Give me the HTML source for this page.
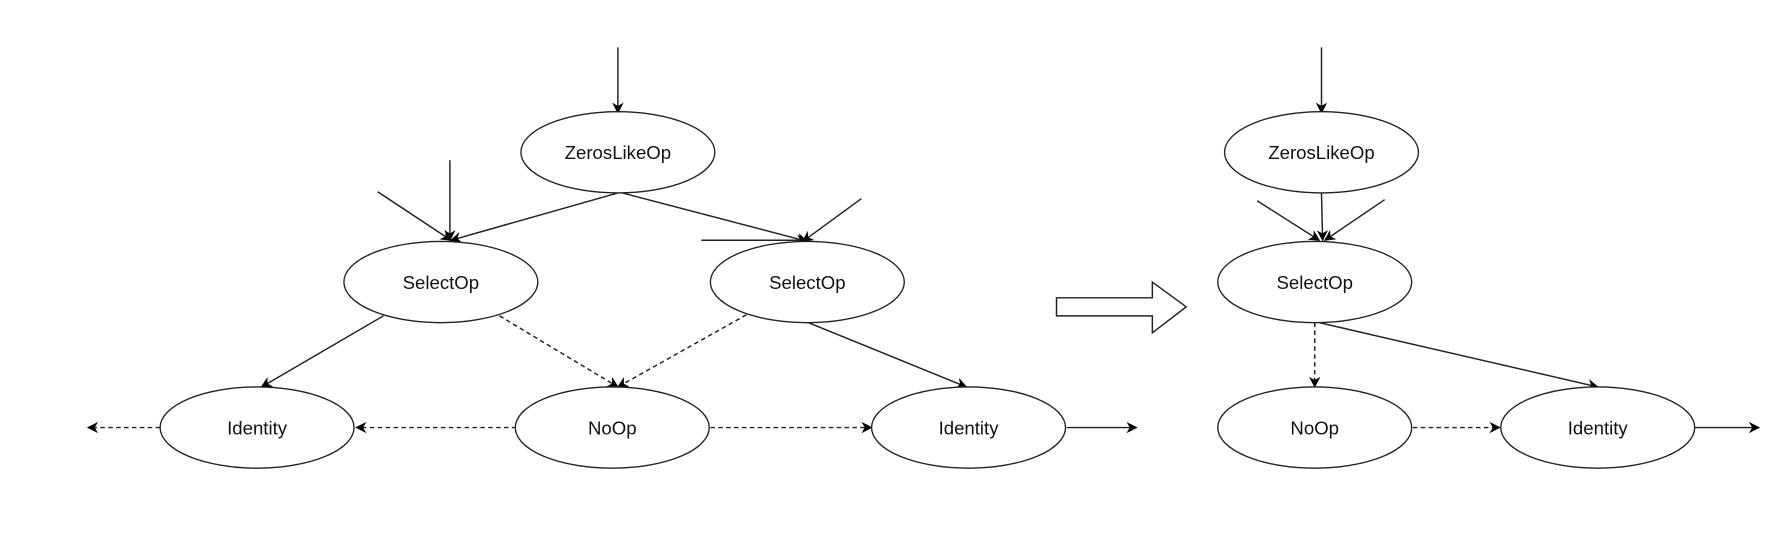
<!DOCTYPE html>
<html><head><style>html,body{margin:0;padding:0;background:#fff}svg{display:block}</style></head>
<body>
<svg width="1768" height="546" viewBox="0 0 1568 484" preserveAspectRatio="none" xmlns="http://www.w3.org/2000/svg">
<defs>
<marker id="a" markerWidth="10" markerHeight="10" refX="9" refY="5" orient="auto" markerUnits="userSpaceOnUse">
<path d="M0,0 L10,5 L0,10 L3,5 z" fill="#000"/></marker>
</defs>
<g stroke="#222" stroke-width="1.3" fill="none">
<line x1="548" y1="42" x2="548" y2="100" marker-end="url(#a)"/>
<line x1="548" y1="171" x2="400" y2="213" marker-end="url(#a)"/>
<line x1="335" y1="170" x2="400" y2="213" marker-end="url(#a)"/>
<line x1="399" y1="142" x2="399" y2="213" marker-end="url(#a)"/>
<line x1="552" y1="171" x2="716" y2="214" marker-end="url(#a)"/>
<line x1="622" y1="213" x2="716" y2="213" marker-end="url(#a)"/>
<line x1="764" y1="176" x2="712" y2="214" marker-end="url(#a)"/>
<line x1="340" y1="280" x2="232" y2="343" marker-end="url(#a)"/>
<line x1="717" y1="286" x2="857" y2="343" marker-end="url(#a)"/>
<line x1="946" y1="379" x2="1008" y2="379" marker-end="url(#a)"/>
<g stroke-dasharray="4,3">
<line x1="443" y1="280" x2="548" y2="343" marker-end="url(#a)"/>
<line x1="662" y1="279" x2="548" y2="343" marker-end="url(#a)"/>
<line x1="142" y1="379" x2="78" y2="379" marker-end="url(#a)"/>
<line x1="458" y1="379" x2="316" y2="379" marker-end="url(#a)"/>
<line x1="630" y1="379" x2="773" y2="379" marker-end="url(#a)"/>
<line x1="1166" y1="286" x2="1166" y2="343" marker-end="url(#a)"/>
<line x1="1253" y1="379" x2="1330" y2="379" marker-end="url(#a)"/>
</g>
<line x1="1172" y1="42" x2="1172" y2="100" marker-end="url(#a)"/>
<line x1="1172" y1="171" x2="1173" y2="213" marker-end="url(#a)"/>
<line x1="1115" y1="178" x2="1170" y2="213" marker-end="url(#a)"/>
<line x1="1228" y1="177" x2="1175" y2="213" marker-end="url(#a)"/>
<line x1="1170" y1="286" x2="1417" y2="343" marker-end="url(#a)"/>
<line x1="1503" y1="379" x2="1560" y2="379" marker-end="url(#a)"/>
<polygon points="937,264 1022,264 1022,250 1052,272 1022,295 1022,280 937,280"/>
</g>
<g stroke="#222" stroke-width="1.2" fill="#fff">
<ellipse cx="548" cy="135" rx="86" ry="36"/>
<ellipse cx="391" cy="250" rx="86" ry="36"/>
<ellipse cx="716" cy="250" rx="86" ry="36"/>
<ellipse cx="228" cy="379" rx="86" ry="36"/>
<ellipse cx="543" cy="379" rx="86" ry="36"/>
<ellipse cx="859" cy="379" rx="86" ry="36"/>
<ellipse cx="1172" cy="135" rx="86" ry="36"/>
<ellipse cx="1166" cy="250" rx="86" ry="36"/>
<ellipse cx="1166" cy="379" rx="86" ry="36"/>
<ellipse cx="1417" cy="379" rx="86" ry="36"/>
</g>
<g font-family="Liberation Sans, sans-serif" font-size="16.5" text-anchor="middle" fill="#111">
<text x="548" y="141">ZerosLikeOp</text>
<text x="391" y="256">SelectOp</text>
<text x="716" y="256">SelectOp</text>
<text x="228" y="385">Identity</text>
<text x="543" y="385">NoOp</text>
<text x="859" y="385">Identity</text>
<text x="1172" y="141">ZerosLikeOp</text>
<text x="1166" y="256">SelectOp</text>
<text x="1166" y="385">NoOp</text>
<text x="1417" y="385">Identity</text>
</g>
</svg>
</body></html>
